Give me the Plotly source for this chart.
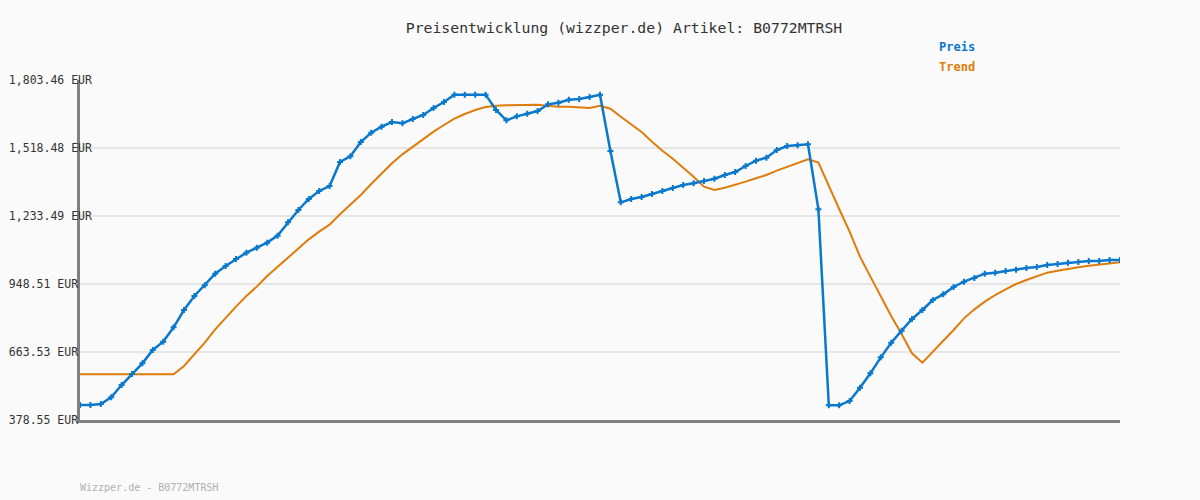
import plotly.graph_objects as go

# Preis (blue) and Trend (orange), 101 daily points
preis = [441.4, 441.4, 445.6, 473.5, 525.2, 571.3, 616.0, 671.9, 706.8, 766.9,
         839.5, 898.2, 942.9, 991.8, 1024.0, 1053.3, 1079.8, 1100.8, 1121.8, 1151.1,
         1207.0, 1258.6, 1304.7, 1338.3, 1359.2, 1459.8, 1483.5, 1543.6, 1582.7, 1607.9,
         1627.4, 1621.9, 1640.0, 1656.8, 1686.1, 1711.3, 1742.0, 1742.0, 1742.0, 1742.0,
         1677.7, 1634.4, 1651.2, 1662.4, 1673.5, 1701.5, 1708.5, 1721.0, 1723.8, 1732.2,
         1742.0, 1505.9, 1290.8, 1304.7, 1313.1, 1325.7, 1338.3, 1350.8, 1363.4, 1370.4,
         1380.2, 1389.9, 1405.3, 1417.9, 1443.0, 1465.4, 1478.0, 1510.1, 1526.9, 1529.7,
         1533.8, 1261.4, 440.0, 440.0, 458.2, 514.1, 574.2, 641.2, 702.6, 753.0,
         801.8, 839.5, 881.5, 905.2, 935.9, 958.3, 973.6, 991.8, 996.0, 1003.0,
         1008.6, 1015.6, 1019.8, 1028.1, 1032.3, 1037.9, 1040.7, 1044.9, 1044.9, 1049.1,
         1049.1]

trend = [569.9, 569.9, 569.9, 569.9, 569.9, 569.9, 569.9, 569.9, 569.9, 569.9,
         604.9, 652.4, 702.6, 758.5, 807.4, 853.5, 898.2, 937.4, 982.0, 1021.2,
         1060.3, 1096.6, 1135.7, 1167.9, 1197.2, 1240.5, 1279.6, 1321.5, 1367.6, 1412.3,
         1454.2, 1491.9, 1524.1, 1554.8, 1586.9, 1614.9, 1641.4, 1661.0, 1677.7, 1690.3,
         1695.9, 1697.3, 1698.7, 1700.1, 1700.1, 1695.9, 1691.7, 1691.7, 1690.3, 1686.1,
         1695.9, 1683.3, 1649.8, 1619.1, 1585.5, 1545.0, 1507.3, 1473.8, 1437.5, 1398.3,
         1356.4, 1342.5, 1352.2, 1363.4, 1377.4, 1391.4, 1405.3, 1423.5, 1440.3, 1457.0,
         1471.0, 1457.0, 1363.4, 1262.8, 1167.9, 1063.1, 979.3, 895.4, 814.4, 739.0,
         657.9, 618.8, 663.5, 706.8, 755.7, 804.6, 842.3, 874.5, 902.4, 926.2,
         948.5, 965.3, 982.0, 996.0, 1004.4, 1012.8, 1018.4, 1025.3, 1030.9, 1035.1,
         1039.3]

days = list(range(len(preis)))

tick_vals = [378.55, 663.53, 948.51, 1233.49, 1518.48, 1803.46]
tick_text = ["378.55 EUR", "663.53 EUR", "948.51 EUR",
             "1,233.49 EUR", "1,518.48 EUR", "1,803.46 EUR"]
# pad with nbsp so the monospace labels line up on the left
width = max(len(t) for t in tick_text)
tick_text = [t + "\u00a0" * (width - len(t)) for t in tick_text]

BLUE = "#0a78cc"
ORANGE = "#df7c0a"
MONO = "DejaVu Sans Mono"
BG = "#fafafa"

fig = go.Figure()
fig.add_trace(go.Scatter(x=days, y=trend, mode="lines", name="Trend",
                         line=dict(color=ORANGE, width=2), hoverinfo="skip"))
fig.add_trace(go.Scatter(x=days, y=preis, mode="lines+markers", name="Preis",
                         line=dict(color=BLUE, width=2.5),
                         marker=dict(symbol="cross", size=5, color=BLUE)))

fig.update_layout(
    width=1200, height=500,
    template="none",
    showlegend=False,
    paper_bgcolor=BG, plot_bgcolor=BG,
    margin=dict(l=80, r=80, t=80, b=80),
    font=dict(family=MONO, color="#333333"),
    title=dict(text="Preisentwicklung (wizzper.de) Artikel: B0772MTRSH",
               x=624 / 1200, xanchor="center", y=1 - 28 / 500, yanchor="middle",
               font=dict(family=MONO, size=14.8, color="#333333")),
)
fig.update_xaxes(range=[0, len(days) - 1], showgrid=False, zeroline=False,
                 showticklabels=False, ticks="", automargin=False,
                 showline=True, linecolor="#808080", linewidth=2.5)
fig.update_yaxes(range=[tick_vals[0], tick_vals[-1]], tickvals=tick_vals,
                 ticktext=tick_text, ticks="", automargin=False,
                 ticklabelstandoff=-17,
                 tickfont=dict(family=MONO, size=11.5, color="#333333"),
                 showgrid=True, gridcolor="#e6e6e6", gridwidth=2, zeroline=False,
                 showline=True, linecolor="#808080", linewidth=2.5)

# text-only legend, top right
for i, (label, col) in enumerate([("Preis", BLUE), ("Trend", ORANGE)]):
    fig.add_annotation(text="<b>" + label + "</b>", xref="paper", yref="paper",
                       x=(937 - 80) / 1040, y=(420 - 47 - 20 * i) / 340,
                       xanchor="left", yanchor="middle", showarrow=False,
                       font=dict(family=MONO, size=12, color=col))

fig.add_annotation(text="Wizzper.de - B0772MTRSH", xref="paper", yref="paper",
                   x=-2 / 1040, y=(420 - 487) / 340, xanchor="left", yanchor="middle",
                   showarrow=False, font=dict(family=MONO, size=10, color="#b0b0b0"))

# drop the default body margin so the figure fills the window exactly
fig.write_html("out.html", config={"displayModeBar": False},
               post_script="document.body.style.margin='0';"
                           "document.body.style.background='%s';" % BG)
